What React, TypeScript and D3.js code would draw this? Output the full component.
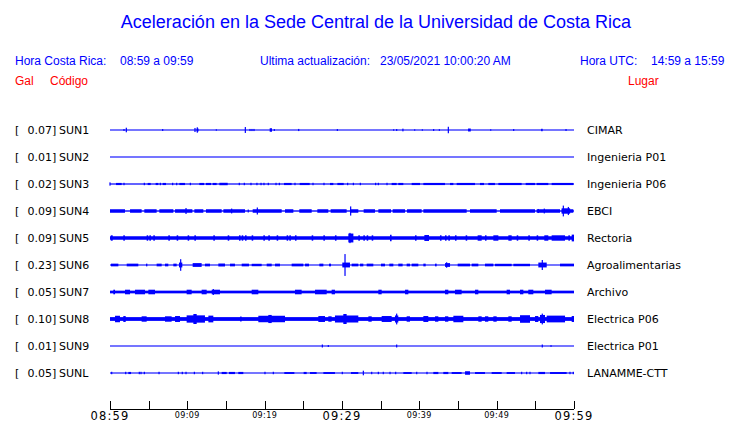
import * as d3 from 'd3';
import React from 'react';

// estaciones (de arriba hacia abajo)
const codes = ['SUN1', 'SUN2', 'SUN3', 'SUN4', 'SUN5', 'SUN6', 'SUN7', 'SUN8', 'SUN9', 'SUNL'];
const places = [
  'CIMAR',
  'Ingenieria P01',
  'Ingenieria P06',
  'EBCI',
  'Rectoria',
  'Agroalimentarias',
  'Archivo',
  'Electrica P06',
  'Electrica P01',
  'LANAMME-CTT',
];
const peakGal = [0.07, 0.01, 0.02, 0.09, 0.09, 0.23, 0.05, 0.1, 0.01, 0.05];

// nivel de ruido de fondo de cada traza (amplitud relativa, 0-100)
const noiseLevel = [4, 4, 4.5, 5, 13, 4, 10, 14, 4, 4];

// eventos de cada traza: [minuto inicio, minuto fin, amplitud relativa]
type Ev = [number, number, number];

const sun1: Ev[] = [
  [1.81, 1.81, 7], [2.11, 2.11, 17], [6.81, 6.81, 7], [10.99, 10.99, 15], [11.2, 11.45, 11],
  [11.29, 11.29, 20], [13.75, 13.75, 5], [17.5, 17.5, 22], [18.1, 18.1, 8], [18.36, 18.36, 8],
  [18.62, 18.62, 8], [20.65, 20.95, 13], [21.25, 21.25, 7], [24.4, 24.4, 8], [29.4, 29.4, 7],
  [36.68, 36.68, 5], [37.07, 37.07, 7], [37.8, 37.95, 10], [39.4, 39.4, 5], [40.39, 40.39, 5],
  [41.85, 41.85, 7], [42.59, 42.59, 6], [43.75, 43.75, 24], [46.3, 46.65, 11], [49.23, 49.23, 5],
  [52.2, 52.2, 7], [55.75, 55.95, 9], [58.97, 58.97, 7],
];

const sun2: Ev[] = [];

const sun3: Ev[] = [
  [0, 0, 12], [0.78, 1.51, 8], [1.81, 1.81, 9], [4.44, 4.44, 9], [4.87, 5.26, 8], [5.9, 6.25, 8],
  [6.51, 6.51, 9], [6.81, 7.24, 8], [8.1, 8.1, 9], [8.62, 8.62, 9], [8.97, 9.7, 8], [10.39, 10.39, 9],
  [11.55, 12.16, 8], [12.41, 13.06, 8], [13.28, 13.79, 8], [14.14, 15.22, 9], [16.72, 16.72, 9],
  [17.37, 17.37, 9], [18.23, 18.23, 9], [19.0, 19.0, 9], [19.53, 19.53, 9], [19.91, 19.91, 9],
  [20.47, 20.47, 9], [21.47, 21.47, 9], [21.9, 21.9, 9], [22.5, 23.49, 8], [23.92, 23.92, 9],
  [24.53, 25.82, 8], [26.25, 26.25, 9], [27.67, 27.67, 9], [28.45, 28.88, 8], [29.4, 30.22, 8],
  [30.73, 30.73, 9], [31.47, 31.47, 9], [32.37, 32.37, 9], [34.35, 34.35, 9], [34.7, 34.7, 9],
  [35.82, 35.82, 9], [36.42, 37.07, 8], [37.28, 37.93, 8], [39.01, 40.09, 8], [40.52, 43.32, 8],
  [43.97, 44.4, 8], [44.83, 47.2, 8], [47.84, 48.36, 8], [48.92, 49.78, 8], [50.22, 53.23, 8],
  [53.75, 54.96, 8], [55.17, 56.68, 8], [57.11, 59.91, 8],
];

const sun4: Ev[] = [
  [0, 1.94, 13], [2.59, 4.09, 13], [4.44, 6.03, 13], [6.38, 8.19, 13], [8.41, 10.65, 13],
  [10.91, 12.07, 13], [12.41, 14.44, 13], [14.66, 17.46, 13], [17.8, 17.95, 11], [18.45, 22.2, 13],
  [22.63, 23.71, 13], [24.48, 26.08, 13], [26.81, 28.23, 13], [28.53, 30.6, 13], [31.03, 32.11, 13],
  [32.8, 34.27, 13], [34.7, 36.34, 13], [36.55, 38.15, 13], [38.41, 40.3, 13], [40.52, 46.12, 13],
  [46.55, 50.0, 13], [50.43, 54.96, 13], [55.17, 58.19, 13], [58.41, 59.91, 13],
  [9.83, 9.83, 22], [15.73, 15.73, 18], [19.05, 19.05, 26], [31.12, 31.12, 34], [55.39, 55.39, 15],
  [56.16, 56.16, 18], [58.4, 59.5, 20], [58.62, 58.62, 40], [59.27, 59.27, 30],
];

const sun5: Ev[] = [
  [0.1, 0.35, 20], [1.72, 1.92, 20], [4.74, 4.94, 20], [5.09, 5.29, 20], [5.6, 5.8, 20],
  [7.54, 7.74, 20], [8.62, 8.82, 20], [10.04, 10.24, 20], [10.91, 11.11, 20], [13.36, 13.56, 20],
  [15.22, 15.42, 20], [16.68, 16.88, 20], [17.03, 17.23, 20], [17.46, 17.66, 20], [18.32, 18.52, 20],
  [19.83, 20.03, 20], [20.47, 20.67, 20], [21.55, 21.75, 20], [22.84, 23.04, 20], [23.19, 23.39, 20],
  [23.92, 24.12, 20], [26.08, 26.28, 20], [27.59, 27.79, 20], [29.09, 29.29, 20], [30.82, 31.47, 33],
  [31.03, 31.03, 38], [32.11, 32.31, 20], [32.76, 32.96, 20], [33.19, 33.39, 20], [33.84, 34.04, 20],
  [36.21, 36.41, 24], [39.44, 39.64, 20], [40.65, 41.25, 22], [42.67, 42.87, 20], [43.32, 43.52, 20],
  [43.75, 43.95, 20], [44.61, 44.81, 20], [45.99, 46.19, 20], [47.54, 48.06, 20], [48.49, 48.69, 20],
  [49.57, 50.22, 20], [51.51, 51.94, 20], [52.59, 52.79, 20], [54.09, 54.29, 20], [55.17, 55.37, 20],
  [56.16, 56.68, 20], [57.11, 58.84, 20], [59.27, 59.47, 20], [59.7, 60, 25],
];

const sun6: Ev[] = [
  [0.13, 1.08, 10], [2.16, 3.66, 10], [4.66, 4.83, 10], [6.03, 6.68, 10], [7.11, 7.54, 10],
  [8.19, 8.62, 10], [8.92, 9.35, 18], [9.14, 9.14, 43], [10.69, 11.85, 14], [12.28, 12.93, 10],
  [14.01, 14.87, 11], [15.52, 16.16, 10], [17.03, 17.97, 10], [18.32, 19.61, 9], [20.26, 20.91, 10],
  [21.34, 21.98, 10], [23.49, 25.0, 10], [25.22, 25.73, 10], [27.07, 27.59, 10], [28.32, 28.58, 10],
  [30.04, 31.03, 18], [30.39, 30.39, 81], [31.25, 32.11, 10], [32.33, 32.76, 10], [33.19, 34.05, 10],
  [35.04, 35.56, 10], [36.12, 36.64, 10], [37.28, 37.84, 10], [38.36, 38.79, 10], [39.01, 39.87, 10],
  [40.52, 40.82, 10], [42.03, 42.24, 10], [43.32, 43.97, 14], [43.53, 43.53, 20], [44.96, 46.55, 10],
  [46.77, 47.63, 10], [48.49, 49.57, 10], [49.78, 51.94, 9], [52.16, 54.31, 9], [55.39, 56.47, 18],
  [55.9, 55.9, 37], [58.19, 60, 10],
];

const sun7: Ev[] = [
  [0.43, 0.65, 17], [1.94, 2.59, 17], [3.23, 4.53, 17], [4.96, 5.82, 17], [9.91, 10.56, 17],
  [11.85, 12.5, 17], [13.15, 14.22, 17], [13.36, 13.36, 22], [18.32, 19.18, 17], [23.92, 24.78, 17],
  [26.51, 28.02, 17], [28.66, 29.09, 17], [34.7, 35.13, 17], [38.15, 38.58, 17], [43.32, 43.75, 17],
  [44.61, 45.47, 17], [47.2, 47.63, 17], [51.29, 51.72, 17], [53.02, 53.45, 17], [54.09, 54.74, 17],
  [56.25, 57.11, 17],
];

const sun8: Ev[] = [
  [0.65, 1.29, 24], [1.72, 2.03, 22], [4.09, 4.74, 20], [7.11, 7.97, 20], [8.41, 9.05, 22],
  [9.91, 12.28, 27], [10.78, 11.21, 37], [12.72, 13.36, 25], [16.81, 17.03, 18], [19.18, 22.63, 24],
  [20.47, 20.91, 30], [26.94, 27.8, 22], [28.23, 28.66, 20], [29.09, 32.11, 26], [30.17, 30.6, 37],
  [33.41, 33.84, 20], [35.13, 36.42, 22], [36.85, 37.28, 26], [37.07, 37.07, 40], [38.36, 38.79, 20],
  [40.52, 41.16, 22], [42.03, 42.46, 20], [43.32, 43.75, 20], [44.4, 45.69, 24], [47.63, 48.06, 20],
  [48.49, 48.92, 20], [49.57, 50.0, 20], [51.51, 51.94, 20], [53.02, 54.31, 28], [54.96, 55.39, 22],
  [55.6, 56.25, 30], [55.9, 55.9, 40], [56.47, 58.84, 25], [59.7, 60, 22],
];

const sun9: Ev[] = [
  [27.46, 27.46, 11], [28.23, 28.23, 7], [37.07, 37.07, 11], [55.9, 55.9, 11], [57.03, 57.03, 6],
];

const sunl: Ev[] = [
  [0.22, 0.22, 9], [2.03, 2.03, 9], [2.37, 2.72, 8], [3.79, 3.79, 9], [4.01, 4.01, 9], [4.44, 4.44, 9],
  [6.34, 6.34, 9], [8.84, 8.84, 9], [9.35, 9.35, 9], [9.83, 9.83, 9], [10.91, 10.91, 9], [11.98, 11.98, 9],
  [14.01, 14.01, 12], [14.44, 15.09, 8], [15.39, 16.16, 8], [16.59, 17.24, 8], [20.04, 20.04, 9],
  [21.12, 21.12, 9], [22.54, 23.84, 7], [25.04, 25.43, 8], [25.86, 26.72, 7], [27.59, 29.09, 7],
  [30.04, 30.04, 9], [31.16, 32.11, 7], [32.76, 32.76, 17], [33.84, 33.84, 9], [34.7, 34.7, 9],
  [35.34, 35.34, 9], [36.21, 36.21, 9], [36.94, 36.94, 9], [37.93, 39.01, 7], [39.66, 39.66, 9],
  [40.99, 40.99, 9], [41.81, 42.46, 8], [43.1, 43.75, 8], [44.18, 45.47, 7], [45.91, 46.55, 13],
  [47.2, 48.49, 7], [49.35, 50.65, 7], [51.29, 52.37, 7], [53.23, 53.23, 9], [53.88, 53.88, 9],
  [54.31, 54.31, 9], [55.39, 56.25, 8], [56.9, 59.05, 7], [59.48, 59.48, 9], [59.91, 59.91, 9],
];

const traces: Ev[][] = [sun1, sun2, sun3, sun4, sun5, sun6, sun7, sun8, sun9, sunl];

// eje de tiempo: minutos desde 08:59
const tickMinutes = d3.range(0, 61, 5);
const tickLabels = ['08:59', '09:09', '09:19', '09:29', '09:39', '09:49', '09:59'];
const bigLabels = ['08:59', '09:29', '09:59'];

const W = 740;
const H = 423;
const BLUE = '#0000ff';
const RED = '#ff0000';

export default function App() {
  const x = d3.scaleLinear().domain([0, 60]).range([110, 574]);
  const row = d3
    .scaleBand<number>()
    .domain(d3.range(codes.length))
    .range([116.5, 386.5]);
  const amp = d3.scaleLinear().domain([0, 100]).range([0, 13.5]);
  const cy = (i: number) => (row(i) as number) + row.bandwidth() / 2;
  const axisY = 409;

  return (
    <svg
      width={W}
      height={H}
      style={{ position: 'absolute', left: 0, top: 0, background: '#fff' }}
    >
      <text
        x={376}
        y={28}
        textAnchor="middle"
        fontFamily="Liberation Sans, Arial, sans-serif"
        fontSize={18}
        fill={BLUE}
      >
        Aceleración en la Sede Central de la Universidad de Costa Rica
      </text>

      <g fontFamily="Liberation Sans, Arial, sans-serif" fontSize={12}>
        <text x={15} y={65} fill={BLUE}>Hora Costa Rica:</text>
        <text x={120} y={65} fill={BLUE}>08:59 a 09:59</text>
        <text x={260} y={65} fill={BLUE}>Ultima actualización:</text>
        <text x={380} y={65} fill={BLUE}>23/05/2021 10:00:20 AM</text>
        <text x={580} y={65} fill={BLUE}>Hora UTC:</text>
        <text x={651} y={65} fill={BLUE}>14:59 a 15:59</text>
        <text x={15} y={85} fill={RED}>Gal</text>
        <text x={50} y={85} fill={RED}>Código</text>
        <text x={628} y={85} fill={RED}>Lugar</text>
      </g>

      <g fontFamily="DejaVu Sans, sans-serif" fontSize={11} fill="#000">
        {codes.map((c, i) => (
          <g key={c}>
            <text x={15} y={cy(i) + 4}>[</text>
            <text x={27.5} y={cy(i) + 4}>{peakGal[i].toFixed(2)}]</text>
            <text x={59} y={cy(i) + 4}>{c}</text>
            <text x={587} y={cy(i) + 4}>{places[i]}</text>
          </g>
        ))}
      </g>

      <g fill={BLUE}>
        {traces.map((evs, i) => {
          const y0 = cy(i);
          const n = amp(noiseLevel[i]);
          return (
            <g key={codes[i]}>
              <rect x={x(0)} y={y0 - n} width={x(60) - x(0)} height={2 * n} />
              {evs.map(([s, e, a], k) => {
                const h = amp(a);
                const w = Math.max(x(e) - x(s), 1.2);
                return <rect key={k} x={x(s) - (e === s ? 0.6 : 0)} y={y0 - h} width={w} height={2 * h} />;
              })}
            </g>
          );
        })}
      </g>

      <g stroke="#000" strokeWidth={1} shapeRendering="crispEdges">
        <line x1={x(0)} x2={x(60)} y1={axisY} y2={axisY} />
        {tickMinutes.map((m) => (
          <line key={m} x1={Math.round(x(m)) + 0.5} x2={Math.round(x(m)) + 0.5} y1={axisY - 8} y2={axisY} />
        ))}
      </g>
      <g fontFamily="DejaVu Sans, sans-serif" fill="#000" textAnchor="middle">
        {tickLabels.map((t, k) => {
          const big = bigLabels.includes(t);
          return (
            <text
              key={t}
              x={x(k * 10)}
              y={big ? 420 : 417.5}
              fontSize={big ? 11.5 : 8}
              letterSpacing={big ? 1.2 : 0.4}
            >
              {t}
            </text>
          );
        })}
      </g>
    </svg>
  );
}
